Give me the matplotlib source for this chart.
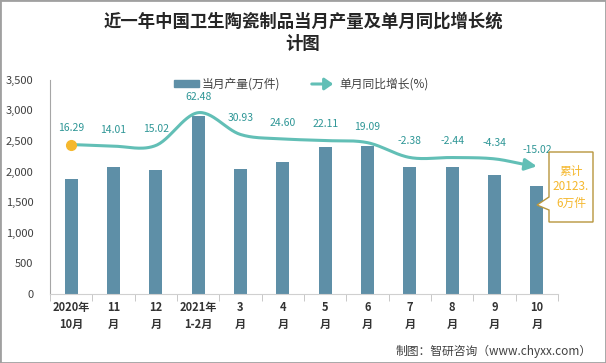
import numpy as np
import matplotlib
matplotlib.use("Agg")
import matplotlib.pyplot as plt
from matplotlib.patches import Rectangle, Polygon, FancyArrowPatch

plt.rcParams['font.family'] = ['Noto Sans CJK SC', 'DejaVu Sans']

months = ["2020年\n10月", "11\n月", "12\n月", "2021年\n1-2月", "3\n月", "4\n月",
          "5\n月", "6\n月", "7\n月", "8\n月", "9\n月", "10\n月"]
output = [1880, 2075, 2030, 2910, 2045, 2160, 2405, 2420, 2080, 2080, 1945, 1765]
growth = [16.29, 14.01, 15.02, 62.48, 30.93, 24.60, 22.11, 19.09, -2.38, -2.44, -4.34, -15.02]
growth_labels = ["16.29", "14.01", "15.02", "62.48", "30.93", "24.60", "22.11", "19.09",
                 "-2.38", "-2.44", "-4.34", "-15.02"]
yticks = [0, 500, 1000, 1500, 2000, 2500, 3000, 3500]

BAR = "#5E8FA7"
LINE = "#62BFB6"
LABEL = "#2E9696"


def catmull_rom(x, y, n=30):
    # simple smoothing, similar to office "smoothed line"
    x = np.asarray(x, float); y = np.asarray(y, float)
    px = np.r_[2 * x[0] - x[1], x, 2 * x[-1] - x[-2]]
    py = np.r_[y[0], y, y[-1]]
    xs, ys = [], []
    for i in range(1, len(px) - 2):
        t = np.linspace(0, 1, n, endpoint=False)
        for p, out in ((px, xs), (py, ys)):
            p0, p1, p2, p3 = p[i - 1], p[i], p[i + 1], p[i + 2]
            m1, m2 = (p2 - p0) / 2, (p3 - p1) / 2
            h = (2*t**3 - 3*t**2 + 1) * p1 + (t**3 - 2*t**2 + t) * m1 \
                + (-2*t**3 + 3*t**2) * p2 + (t**3 - t**2) * m2
            out.extend(h)
    xs.append(x[-1]); ys.append(y[-1])
    return np.array(xs), np.array(ys)


fig = plt.figure(figsize=(6.06, 3.63), dpi=100)
ax = fig.add_axes([50 / 606, 0.19, 508 / 606, 0.59])
x = np.arange(len(months))

ax.bar(x, output, width=0.3, color=BAR, zorder=2)
ax.set_xlim(-0.5, len(months) - 0.5)
ax.set_ylim(0, 3500)
ax.set_yticks(yticks)
ax.set_yticklabels([f"{v:,}" for v in yticks], fontsize=8, color="#404040")
ax.set_xticks(x)
ax.set_xticklabels(months, fontsize=8, fontweight="bold", color="#333333", linespacing=1.35)
ax.set_xticks(np.arange(-0.5, len(months)), minor=True)
ax.tick_params(axis="x", which="major", length=0, pad=5)
ax.tick_params(axis="x", which="minor", length=5, color="#BFBFBF")
ax.tick_params(axis="y", length=0, pad=12)
for s in ("top", "right"):
    ax.spines[s].set_visible(False)
ax.spines["left"].set_color("#A6A6A6")
ax.spines["bottom"].set_color("#D0D0D0")

ax2 = ax.twinx()
ax2.set_ylim(-200, 110)
ax2.axis("off")
sx, sy = catmull_rom(x, growth)
ax2.plot(sx[:-8], sy[:-8], color=LINE, lw=2.2, solid_capstyle="round", zorder=3)
ax2.annotate("", xy=(sx[-1], sy[-1]), xytext=(sx[-9], sy[-9]),
             arrowprops=dict(arrowstyle="-|>,head_length=0.7,head_width=0.35",
                             color=LINE, lw=2.2, shrinkA=0, shrinkB=0))
ax2.plot(x[0], growth[0], "o", color="#F5B82E", ms=7, zorder=4)
for xi, g, lab in zip(x, growth, growth_labels):
    ax2.annotate(lab, (xi, g), xytext=(0, 8), textcoords="offset points",
                 ha="center", va="bottom", fontsize=7.5, color=LABEL)

# title
fig.text(0.5, 1 - 33 / 363, "近一年中国卫生陶瓷制品当月产量及单月同比增长统\n计图",
         ha="center", va="center", fontsize=12.5, fontweight="bold",
         color="#262626", linespacing=1.35)

# legend
fig.patches.append(Rectangle((174 / 606, 1 - 87 / 363), 25 / 606, 7 / 363,
                             transform=fig.transFigure, color=BAR))
fig.text(202 / 606, 1 - 84 / 363, "当月产量(万件)", fontsize=8.5, color="#404040",
         va="center", ha="left")
fig.add_artist(FancyArrowPatch(
    (309 / 606, 1 - 84 / 363), (336 / 606, 1 - 84 / 363), transform=fig.transFigure,
    arrowstyle="-|>,head_length=5,head_width=3.5", color=LINE, lw=2.2,
    mutation_scale=1))
fig.text(339 / 606, 1 - 84 / 363, "单月同比增长(%)", fontsize=8.5, color="#404040",
         va="center", ha="left")

# cumulative callout
bl, br, bt, bb = 549, 593, 152, 222
pts = [(bl, bt), (br, bt), (br, bb), (bl, bb), (bl, 210), (537, 205), (bl, 197)]
callout = Polygon([(px / 606, 1 - py / 363) for px, py in pts], closed=True,
                  transform=fig.transFigure, facecolor="white",
                  edgecolor="#B8963C", lw=1, joinstyle="miter", zorder=5)
fig.add_artist(callout)
fig.text((bl + br) / 2 / 606, 1 - 187 / 363, "累计\n20123.\n6万件", ha="center",
         va="center", fontsize=8.5, color="#F5B82E", linespacing=1.3, zorder=6)

fig.text(592 / 606, 1 - 351 / 363, "制图：智研咨询（www.chyxx.com）", ha="right",
         va="center", fontsize=8.5, color="#404040")

fig.patches.append(Rectangle((0, 0), 1, 1, transform=fig.transFigure, fill=False,
                             edgecolor="#A0A0A0", lw=2))

fig.savefig("out.png", dpi=100)
